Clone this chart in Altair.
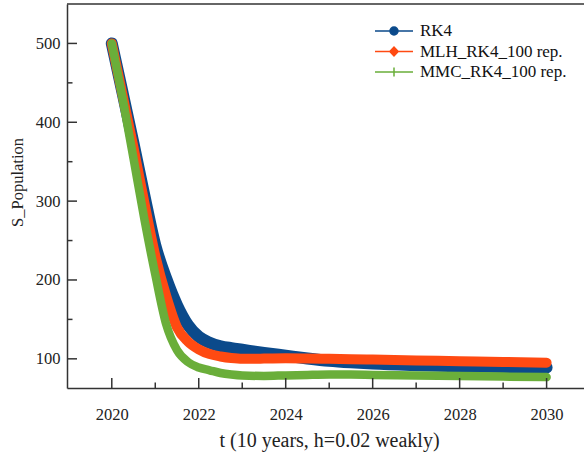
import altair as alt
import pandas as pd

# ---- data ----
years = [2020, 2020.25, 2020.5, 2020.75, 2021, 2021.25, 2021.5, 2021.75, 2022, 2022.25,
         2022.5, 2022.75, 2023, 2023.5, 2024, 2024.5, 2025, 2025.5, 2026, 2027, 2028, 2029, 2030]
rk4 = [500, 437, 373, 307, 244, 202, 168, 143, 128, 120.5, 116, 113.5, 111.5, 107.5,
       104, 100.5, 97.5, 95.5, 94, 92, 90.5, 89.5, 89]
mlh = [500, 434, 368, 298, 231, 180, 140, 122, 112, 106, 103, 101, 100, 100.3, 100.8,
       100.5, 100, 99.5, 99, 98, 97, 96, 95]
mmc = [500, 430, 354, 277, 207, 144, 111, 96, 89, 85.5, 82, 80, 78.8, 78.3, 79, 79.6,
       80, 80, 79.6, 79, 78.3, 77.5, 76.8]

# the RK4 label carries a leading space in the reference legend
series_names = ["\u00a0RK4", "MLH_RK4_100 rep.", "MMC_RK4_100 rep."]
series_colors = ["#0B4A8B", "#FF4A12", "#6AAE3A"]

x_ticks_major = [2020, 2022, 2024, 2026, 2028, 2030]
x_ticks_minor = [2021, 2023, 2025, 2027, 2029]
y_ticks_major = [100, 200, 300, 400, 500]
y_ticks_minor = [150, 250, 350, 450]

rows = []
for i, vals in enumerate([rk4, mlh, mmc]):
    for t, v in zip(years, vals):
        rows.append({"t": t, "v": v, "series": series_names[i], "k": i})
df = pd.DataFrame(rows)

W, H = 517, 384
FONT = "Liberation Serif"
AX = "#333333"

x_scale = alt.Scale(domain=[2018.97, 2030.86], nice=False, zero=False)
y_scale = alt.Scale(domain=[63, 550], nice=False, zero=False)

x_axis = alt.Axis(values=x_ticks_major, format="d", ticks=False, tickSize=0,
                  labelPadding=31, labelBaseline="alphabetic", labelFontSize=16.5,
                  labelFlush=False, title="t (10 years, h=0.02 weakly)",
                  titleFontSize=20, titleBaseline="alphabetic", titleX=262, titleY=58)
y_axis = alt.Axis(values=y_ticks_major, format="d", ticks=False, tickSize=0,
                  labelPadding=7, labelFontSize=16.5, labelFlush=False,
                  title="S_Population", titleFontSize=16.5, titleBaseline="alphabetic",
                  titleX=-45, titleY=178, titleAngle=270)


def X():
    return alt.X("t:Q", scale=x_scale, axis=x_axis)


def Y():
    return alt.Y("v:Q", scale=y_scale, axis=y_axis)


def line_layer(k, width):
    return alt.Chart(df).transform_filter(alt.datum.k == k).mark_line(
        color=series_colors[k], strokeWidth=width, strokeCap="round", strokeJoin="round",
        interpolate="monotone"
    ).encode(x=X(), y=Y())


lines = [line_layer(0, 12), line_layer(1, 10), line_layer(2, 8.5)]

# legend (line + marker symbols) from a layer that draws no marks
legend_paths = [
    "M-1.9,0L1.9,0M-0.4,0A0.4,0.4,0,1,0,0.4,0A0.4,0.4,0,1,0,-0.4,0Z",
    "M-1.9,0L1.9,0M-0.42,0L0,-0.45L0.42,0L0,0.45Z",
    "M-1.9,0L1.9,0M0,-0.45L0,0.45",
]
leg = alt.Legend(orient="none", legendX=316, legendY=16, title=None)
legend_layer = alt.Chart(df).transform_filter("false").mark_point(
    filled=True, opacity=1
).encode(
    x=X(), y=Y(),
    fill=alt.Fill("series:N", scale=alt.Scale(domain=series_names, range=series_colors), legend=leg),
    stroke=alt.Stroke("series:N", scale=alt.Scale(domain=series_names, range=series_colors), legend=leg),
    shape=alt.Shape("series:N", scale=alt.Scale(domain=series_names, range=legend_paths), legend=leg),
)

# inward ticks
ytm = alt.Chart(pd.DataFrame({"v": y_ticks_major})).mark_rule(color=AX, strokeWidth=1.5).encode(
    y=Y(), x=alt.value(0), x2=alt.value(10))
ytn = alt.Chart(pd.DataFrame({"v": y_ticks_minor})).mark_rule(color=AX, strokeWidth=1.5).encode(
    y=Y(), x=alt.value(0), x2=alt.value(5.5))
xtm = alt.Chart(pd.DataFrame({"t": x_ticks_major})).mark_rule(color=AX, strokeWidth=1.5).encode(
    x=X(), y=alt.value(H), y2=alt.value(H - 10))
xtn = alt.Chart(pd.DataFrame({"t": x_ticks_minor})).mark_rule(color=AX, strokeWidth=1.5).encode(
    x=X(), y=alt.value(H), y2=alt.value(H - 5.5))
top_border = alt.Chart(pd.DataFrame({"a": [0]})).mark_rule(color=AX, strokeWidth=1.5).encode(
    x=alt.value(0), x2=alt.value(W), y=alt.value(0))

chart = alt.layer(*lines, legend_layer, ytm, ytn, xtm, xtn, top_border).properties(
    width=W, height=H,
    autosize=alt.AutoSizeParams(type="none"),
    padding={"left": 67, "top": 4, "right": 0, "bottom": 66},
).configure_view(stroke=None).configure_axis(
    domainColor=AX, domainWidth=1.5, grid=False,
    labelFont=FONT, titleFont=FONT, labelColor="#222222", titleColor="#222222",
    titleFontWeight="normal",
).configure_legend(
    padding=0, symbolSize=400, symbolStrokeWidth=1.5, symbolOpacity=1,
    labelFont=FONT, labelFontSize=17, labelColor="#111111",
    labelOffset=15, rowPadding=1.5, labelLimit=300,
)

chart.save("out.html", embed_options={"renderer": "svg", "actions": False})
